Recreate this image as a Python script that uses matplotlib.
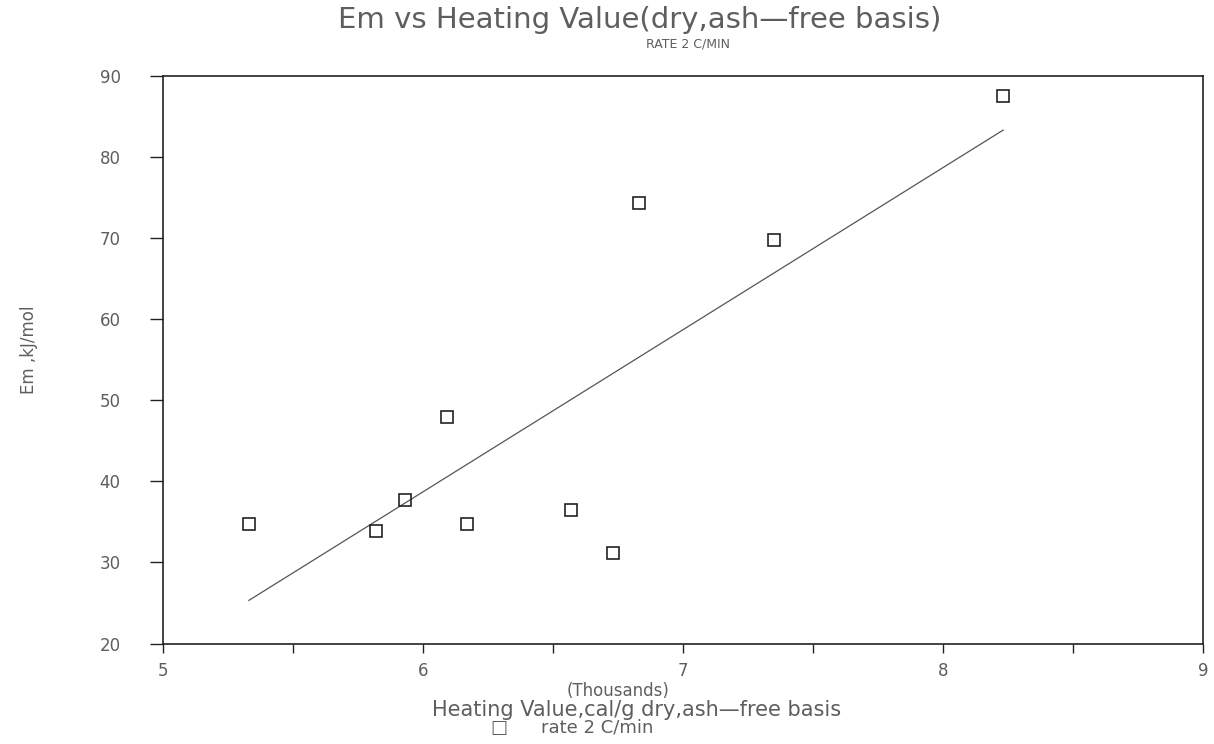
import numpy as np
import matplotlib
matplotlib.use("Agg")
import matplotlib.pyplot as plt
from matplotlib.ticker import MultipleLocator, FixedLocator

# Heating value (thousands of cal/g, dry ash-free) and activation energy Em (kJ/mol)
heating_value = [5.33, 5.82, 5.93, 6.09, 6.17, 6.57, 6.73, 6.83, 7.35, 8.23]
em_kj_mol = [34.7, 33.9, 37.7, 47.9, 34.7, 36.5, 31.2, 74.3, 69.8, 87.5]

x_ticks = [5, 6, 7, 8, 9]
y_ticks = [20, 30, 40, 50, 60, 70, 80, 90]

title = "Em vs Heating Value(dry,ash\u2014free basis)"
subtitle = "RATE 2 C/MIN"
x_units = "(Thousands)"
x_label = "Heating Value,cal/g dry,ash\u2014free basis"
y_label = "Em ,kJ/mol"
series_label = "rate 2 C/min"

text_color = "#5e5e5e"
ink = "#222222"

fig = plt.figure(figsize=(12.14, 7.44), dpi=100)
ax = fig.add_axes([0.1343, 0.135, 0.857, 0.763])

# least-squares trend line over the data range
coef = np.polyfit(heating_value, em_kj_mol, 1)
xs = np.array([min(heating_value), max(heating_value)])
ax.plot(xs, np.polyval(coef, xs), color="#555555", lw=0.9, zorder=2)

ax.plot(heating_value, em_kj_mol, linestyle="none", marker="s", ms=8,
        mfc="none", mec=ink, mew=1.2, zorder=3)

ax.set_xlim(5, 9)
ax.set_ylim(20, 90)
ax.xaxis.set_major_locator(FixedLocator(x_ticks))
ax.xaxis.set_minor_locator(MultipleLocator(0.5))
ax.yaxis.set_major_locator(FixedLocator(y_ticks))

for s in ax.spines.values():
    s.set_color(ink)
    s.set_linewidth(1.2)

ax.tick_params(axis="x", which="both", direction="out", length=6.5, width=1.0,
               color=ink, pad=7, labelsize=12, labelcolor=text_color)
ax.tick_params(axis="y", which="major", direction="out", length=9.5, width=1.0,
               color=ink, pad=21, labelsize=12, labelcolor=text_color)

fig.text(0.527, 0.973, title, ha="center", va="center", fontsize=21,
         color=text_color)
fig.text(0.567, 0.941, subtitle, ha="center", va="center", fontsize=9,
         color=text_color)

fig.text(0.509, 0.071, x_units, ha="center", va="center", fontsize=12,
         color=text_color)
fig.text(0.524, 0.046, x_label, ha="center", va="center", fontsize=15,
         color=text_color)
fig.text(0.411, 0.022, "\u25a1", ha="center", va="center", fontsize=13,
         color=text_color)
fig.text(0.492, 0.022, series_label, ha="center", va="center", fontsize=13,
         color=text_color)

fig.text(0.024, 0.53, y_label, ha="center", va="center", rotation=90,
         fontsize=12, color=text_color)

fig.savefig("out.png", dpi=100, facecolor="white")
